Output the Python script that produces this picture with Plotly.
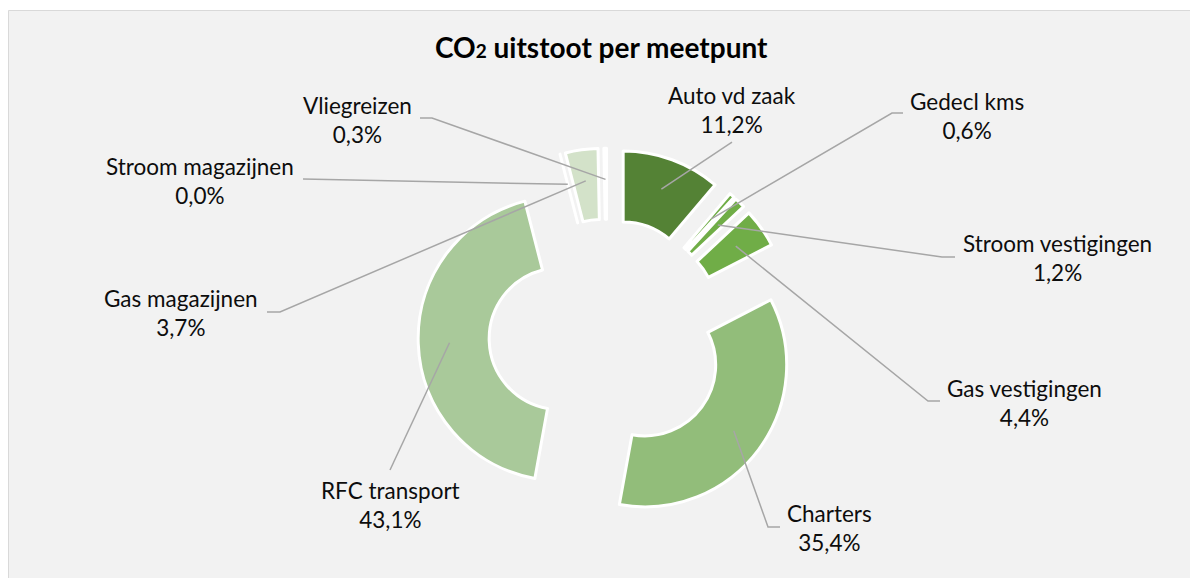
import math
import plotly.graph_objects as go

# ---------------- data ----------------
labels = ["Auto vd zaak", "Gedecl kms", "Stroom vestigingen", "Gas vestigingen",
          "Charters", "RFC transport", "Stroom magazijnen", "Gas magazijnen", "Vliegreizen"]
shares = [11.2, 0.6, 1.2, 4.4, 35.4, 43.1, 0.0, 3.7, 0.3]
colors = ["#548235", "#70AD47", "#70AD47", "#70AD47",
          "#92BD7A", "#A9C99A", "#C8DCBB", "#D3E2C9", "#DDE9D5"]

# ---------------- layout constants ----------------
OFF = 8                    # page body margin around the plot div
W, H = 1198 - OFF, 578 - OFF
CX, CY = 607, 337          # pie centre (page px)
R = 142                    # outer radius (px)
PULL = 0.33
HOLE = 0.5
ANCHOR = 0.78              # leader anchor radius inside the ring (fraction of R)
FONT = "Lato, 'Open Sans', sans-serif"
LABEL_SIZE = 22.5
LINE_COL = "#A6A6A6"

# label centre and leader path points on the label side (page px)
label_layout = {
    "Vliegreizen":        ((357, 120), [(420, 118), (432, 118)]),
    "Stroom magazijnen":  ((200, 181), [(303, 179)]),
    "Gas magazijnen":     ((181, 313), [(267, 312), (280, 312)]),
    "RFC transport":      ((390, 505), [(390, 470)]),
    "Charters":           ((829, 528), [(780, 527), (768, 527)]),
    "Gas vestigingen":    ((1024, 403), [(940, 401), (928, 401)]),
    "Stroom vestigingen": ((1057, 258), [(955, 257), (942, 257)]),
    "Gedecl kms":         ((967, 116), [(903, 113), (892, 113)]),
    "Auto vd zaak":       ((732, 110), [(732, 142)]),
}


def px(x, y):
    """page pixel -> paper fraction"""
    return (x - OFF) / W, 1 - (y - OFF) / H


half = R * (1 + PULL)
dom_x = [(CX - OFF - half) / W, (CX - OFF + half) / W]
dom_y = [(H - (CY - OFF) - half) / H, (H - (CY - OFF) + half) / H]

fig = go.Figure()
fig.add_trace(go.Pie(
    labels=labels, values=shares, sort=False, direction="clockwise", rotation=0,
    hole=HOLE, pull=[PULL] * len(shares),
    marker=dict(colors=colors, line=dict(color="white", width=3)),
    textinfo="none", hoverinfo="label+percent", showlegend=False,
    domain=dict(x=dom_x, y=dom_y),
))

shapes = [dict(type="rect", xref="paper", yref="paper", layer="below",
               x0=0.5 / W, x1=1.01, y0=-0.01, y1=1 - 2.5 / H,
               fillcolor="#F2F2F2", line=dict(color="#D9D9D9", width=1))]
annotations = []

total = sum(shares)
cum = 0.0
for lab, v in zip(labels, shares):
    mid = (cum + v / 2) / total * 2 * math.pi
    cum += v
    dist = R * (PULL + ANCHOR)
    ax = CX + dist * math.sin(mid)
    ay = CY - dist * math.cos(mid)
    (tx, ty), pts = label_layout[lab]
    path_pts = pts + [(ax, ay)]
    path = "M " + " L ".join("%.5f,%.5f" % px(x, y) for x, y in path_pts)
    shapes.append(dict(type="path", xref="paper", yref="paper", path=path,
                       layer="above", line=dict(color=LINE_COL, width=1.5)))
    pct = ("%.1f" % v).replace(".", ",") + "%"
    x0, y0 = px(tx, ty)
    annotations.append(dict(x=x0, y=y0, xref="paper", yref="paper", xanchor="center",
                            yanchor="middle", showarrow=False, align="center",
                            text=lab + "<br>" + pct,
                            font=dict(family=FONT, size=LABEL_SIZE, color="#0D0D0D")))

tx, ty = px(601, 47)
annotations.append(dict(x=tx, y=ty, xref="paper", yref="paper", xanchor="center",
                        yanchor="middle", showarrow=False,
                        text="<b>CO<span style='font-size:19px'>2</span> uitstoot per meetpunt</b>",
                        font=dict(family=FONT, size=28, color="#000000")))

fig.update_layout(width=W, height=H, autosize=False,
                  margin=dict(l=0, r=0, t=0, b=0),
                  paper_bgcolor="white", plot_bgcolor="white",
                  shapes=shapes, annotations=annotations)

fig.write_html("out.html")
